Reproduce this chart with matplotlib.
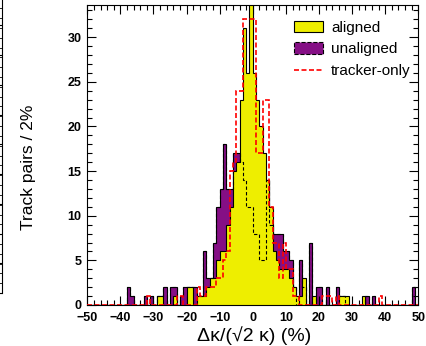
import numpy as np
import matplotlib.pyplot as plt
from matplotlib.patches import Patch
from matplotlib.lines import Line2D
from matplotlib.ticker import MultipleLocator

# bin edges in Delta kappa / (sqrt2 kappa), percent
edges = np.arange(-50, 51, 1)

# counts per bin, bins from -50 to 49 (left edge), 10 per row
aligned = [0, 0, 0, 0, 0, 0, 0, 0, 0, 0,
           0, 0, 0, 0, 0, 0, 0, 0, 0, 0,
           0, 1, 1, 0, 0, 0, 1, 0, 0, 0,
           2, 2, 0, 1, 1, 1, 2, 3, 3, 5,
           6, 6, 9, 11, 15, 16, 23, 31, 26, 40,
           26, 23, 20, 17, 14, 11, 6, 5, 4, 4,
           4, 3, 2, 1, 1, 3, 0, 0, 1, 0,
           0, 0, 0, 0, 0, 0, 1, 1, 1, 0,
           0, 0, 0, 1, 0, 0, 0, 0, 0, 0,
           0, 0, 0, 0, 0, 0, 0, 0, 0, 0]

unaligned = [0, 0, 0, 0, 0, 0, 0, 0, 0, 0,
             0, 0, 2, 1, 0, 0, 0, 1, 0, 1,
             0, 1, 1, 2, 0, 2, 2, 0, 1, 2,
             2, 2, 2, 1, 1, 6, 3, 3, 7, 11,
             13, 18, 13, 13, 17, 17, 16, 14, 11, 11,
             8, 8, 5, 5, 14, 9, 8, 8, 8, 6,
             6, 5, 2, 0, 5, 2, 0, 7, 0, 2,
             2, 0, 2, 0, 0, 2, 1, 1, 0, 0,
             0, 0, 0, 0, 1, 0, 1, 0, 0, 0,
             0, 0, 0, 0, 0, 0, 0, 0, 2, 0]

tracker = [0, 0, 0, 0, 0, 0, 0, 0, 0, 0,
           0, 0, 0, 0, 0, 0, 0, 0, 1, 0,
           0, 0, 0, 0, 0, 0, 0, 1, 1, 0,
           0, 0, 0, 2, 1, 1, 2, 2, 2, 3,
           3, 5, 6, 15, 16, 24, 24, 32, 32, 32,
           32, 17, 17, 23, 23, 11, 7, 7, 3, 7,
           4, 4, 1, 1, 0, 0, 0, 0, 0, 0,
           0, 1, 1, 1, 0, 1, 0, 0, 0, 0,
           0, 0, 0, 0, 0, 0, 0, 0, 1, 0,
           0, 0, 0, 0, 0, 0, 0, 0, 0, 0]

yellow = '#eeee00'
purple = '#850f85'
fonts = ['Liberation Sans', 'DejaVu Sans']

fig = plt.figure(figsize=(4.27, 3.46), dpi=100)
ax = fig.add_axes([0.2044, 0.1185, 0.7752, 0.867])

ax.stairs(unaligned, edges, fill=True, facecolor=purple, edgecolor='k', lw=0.8, zorder=1)
ax.stairs(aligned, edges, fill=True, facecolor=yellow, edgecolor='k', lw=0.8, zorder=2)
ax.stairs(unaligned, edges, color='k', ls=(0, (3, 2)), lw=0.8, zorder=3)
ax.stairs(tracker, edges, color='red', ls=(0, (3, 1.5)), lw=1.2, zorder=4)

ax.set_xlim(-50, 50)
ax.set_ylim(0, 33.6)
ax.xaxis.set_major_locator(MultipleLocator(10))
ax.xaxis.set_minor_locator(MultipleLocator(2))
ax.yaxis.set_major_locator(MultipleLocator(5))
ax.yaxis.set_minor_locator(MultipleLocator(1))
ax.tick_params(which='both', direction='in', top=True, right=True, width=0.8)
ax.tick_params(which='major', length=6.5)
ax.tick_params(which='minor', length=3.5)
ax.tick_params(axis='x', pad=5)
ax.tick_params(axis='y', pad=4)
for lab in ax.get_xticklabels() + ax.get_yticklabels():
    lab.set_family('Liberation Sans')
    lab.set_fontweight('bold')
    lab.set_fontsize(9)
for s in ax.spines.values():
    s.set_linewidth(0.8)

ax.set_ylabel('Track pairs / 2%', fontsize=12.5, family=fonts)
ax.yaxis.set_label_coords(-0.155, 0.46)
ax.set_xlabel('Δκ/(√2 κ) (%)', fontsize=14, family=fonts)
ax.xaxis.set_label_coords(0.505, -0.07)

handles = [Patch(facecolor=yellow, edgecolor='k', lw=0.8),
           Patch(facecolor=purple, edgecolor='k', lw=0.8, ls='--'),
           Line2D([], [], color='red', ls=(0, (3, 1.5)), lw=1.2)]
ax.legend(handles, ['aligned', 'unaligned', 'tracker-only'],
          loc='upper left', bbox_to_anchor=(0.605, 0.968), frameon=False,
          prop={'family': fonts, 'size': 11}, handlelength=1.9, handleheight=0.75,
          labelspacing=0.5, handletextpad=0.55, borderaxespad=0.0)

# right edge of the neighbouring panel
ax0 = fig.add_axes([-0.4953, 0.153, 0.5, 0.86])
ax0.set_xlim(0, 1)
ax0.set_ylim(0, 1)
for side in ['left', 'top', 'bottom']:
    ax0.spines[side].set_visible(False)
ax0.spines['right'].set_linewidth(0.8)
ax0.yaxis.set_major_locator(MultipleLocator(0.1))
ax0.yaxis.set_minor_locator(MultipleLocator(0.033))
ax0.tick_params(which='both', direction='in', left=False, right=True,
                labelleft=False, bottom=False, labelbottom=False)
ax0.tick_params(which='major', length=5)
ax0.tick_params(which='minor', length=2.5)

fig.savefig('out.png', dpi=100)
